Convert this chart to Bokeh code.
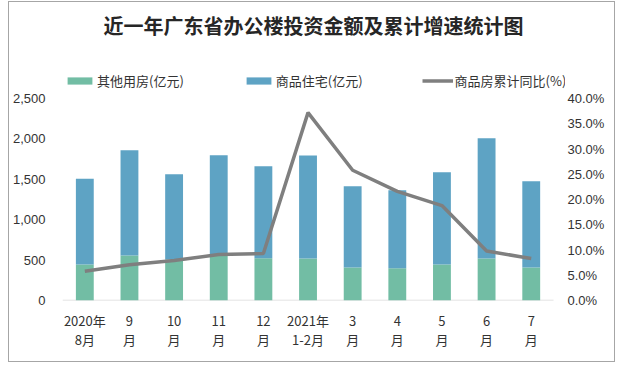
from bokeh.plotting import figure
from bokeh.models import (ColumnDataSource, Range1d, LinearAxis,
                          NumeralTickFormatter, FixedTicker, Legend, LegendItem, Label)
from bokeh.embed import file_html
from bokeh.resources import INLINE

# ---- data ----
months = ["2020年\n8月", "9\n月", "10\n月", "11\n月", "12\n月", "2021年\n1-2月",
          "3\n月", "4\n月", "5\n月", "6\n月", "7\n月"]
other = [446, 558, 508, 555, 524, 520, 409, 400, 446, 520, 409]          # 其他用房(亿元)
housing = [1062, 1301, 1054, 1242, 1137, 1275, 1004, 963, 1140, 1488, 1066]  # 商品住宅(亿元)
growth = [0.058, 0.071, 0.079, 0.091, 0.093, 0.372, 0.258, 0.216, 0.188, 0.098, 0.083]  # 商品房累计同比

title_text = "近一年广东省办公楼投资金额及累计增速统计图"
s_other = "其他用房(亿元)"
s_housing = "商品住宅(亿元)"
s_growth = "商品房累计同比(%)"

GREEN = "#72bda4"
BLUE = "#5ea3c4"
GRAY = "#7f7f7f"
TXT = "#333333"

# layout (pixels)
FRAME_H = 298      # frame spans from figure top to the x axis
AXIS_H = 202       # pixels between 0 and the top tick
FRAME_W = 504      # frame width (a bit wider than the categories, for the legend)
CAT_PX = 44.73     # pixels per category
Y_TOP = 2500
P_TOP = 0.4

n = len(months)
xs = list(range(n))
src = ColumnDataSource(dict(x=xs, other=other, housing=housing, growth=growth))

p = figure(width=607, height=361,
           x_range=Range1d(-0.5, -0.5 + FRAME_W / CAT_PX),
           y_range=Range1d(0, Y_TOP * FRAME_H / AXIS_H), output_backend="svg",
           toolbar_location=None, title=None, min_border_left=52, min_border_right=51,
           min_border_top=0, min_border_bottom=63)
p.extra_y_ranges = {"pct": Range1d(0, P_TOP * FRAME_H / AXIS_H)}
p.outline_line_color = None
p.xgrid.grid_line_color = None
p.ygrid.grid_line_color = None
p.styles = {"border": "1px solid #a6a6a6", "margin-left": "8px", "margin-top": "1px"}

# baseline (category axis line)
p.segment(x0=[xs[0] - 0.5], x1=[xs[-1] + 0.5], y0=[0], y1=[0],
          line_color="#d9d9d9", line_width=1.5)

bars = p.vbar_stack(["other", "housing"], x="x", width=0.4, source=src,
                    color=[GREEN, BLUE], line_color=None)
ln = p.line(x="x", y="growth", source=src, y_range_name="pct",
            line_color=GRAY, line_width=3.5)


def plain(ax):
    ax.axis_line_color = None
    ax.major_tick_line_color = None
    ax.minor_tick_line_color = None
    ax.major_tick_out = 0
    ax.major_tick_in = 0
    ax.minor_tick_out = 0
    ax.minor_tick_in = 0
    ax.major_label_text_color = TXT
    ax.major_label_text_font_size = "13px"


yl = p.yaxis[0]
yl.ticker = FixedTicker(ticks=[0, 500, 1000, 1500, 2000, 2500])
yl.formatter = NumeralTickFormatter(format="0,0")
plain(yl)
yl.major_label_standoff = 17
yl.major_label_text_font = "Liberation Sans"

yr = LinearAxis(y_range_name="pct", ticker=FixedTicker(ticks=[i * 0.05 for i in range(9)]),
                formatter=NumeralTickFormatter(format="0.0%"))
plain(yr)
yr.major_label_standoff = 2
yr.major_label_text_font = "Liberation Sans"
p.add_layout(yr, "right")

xa = p.xaxis[0]
xa.ticker = FixedTicker(ticks=xs)
xa.major_label_overrides = {i: m for i, m in zip(xs, months)}
plain(xa)
xa.major_label_standoff = 10
xa.major_label_text_font = "Noto Sans CJK SC"
xa.major_label_text_line_height = 1.0

# legend
legend = Legend(items=[LegendItem(label=s_other, renderers=[bars[0]]),
                       LegendItem(label=s_housing, renderers=[bars[1]]),
                       LegendItem(label=s_growth, renderers=[ln])],
                orientation="horizontal", location=(2, 210), padding=0, margin=0,
                spacing=59, glyph_width=31, glyph_height=9, label_height=9,
                label_standoff=2, border_line_color=None, background_fill_alpha=0,
                label_text_font="Noto Sans CJK SC", label_text_font_size="13px",
                label_text_color=TXT)
p.add_layout(legend, "center")

p.add_layout(Label(x=251, y=275, x_units="screen", y_units="screen", text=title_text,
                   text_align="center", text_baseline="middle",
                   text_font="Noto Sans CJK SC", text_font_style="bold",
                   text_font_size="20px", text_color="#262626"))

open("out.html", "w").write(file_html(p, INLINE))
